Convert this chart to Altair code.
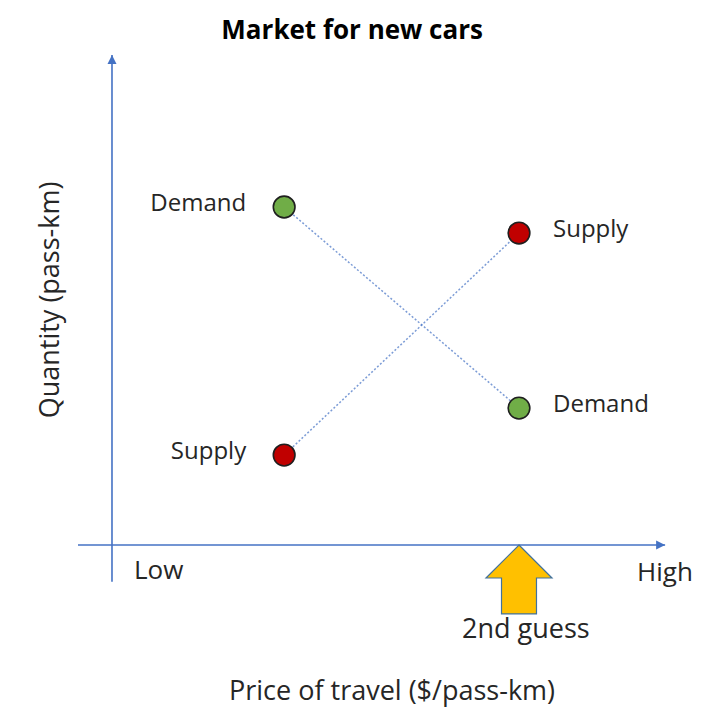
import altair as alt
import pandas as pd

# ---- data (conceptual units: price on x, quantity on y) ----
series = ["Demand", "Demand", "Supply", "Supply"]
price = [4.23, 10.0, 4.23, 10.0]
quantity = [10.0, 4.05, 2.66, 9.23]
point_colors = {"Demand": "#70AD47", "Supply": "#C00000"}

guess_price = 10.0          # "2nd guess" arrow position on the price axis
title_text = "Market for new cars"
x_title = "Price of travel ($/pass-km)"
y_title = "Quantity (pass-km)"
low_label, high_label = "Low", "High"
guess_label = "2nd guess"

# scale domains (no visible axes; the axes are drawn as arrows)
X_DOM = [-2.555, 14.398]
Y_DOM = [-5.0, 15.888]
W, H = 690, 706
FONT = "Open Sans"
BLUE = "#4472C4"
TXT = "#262626"

pts = pd.DataFrame({"series": series, "price": price, "quantity": quantity,
                    "color": [point_colors[s] for s in series]})

xs = alt.Scale(domain=X_DOM, nice=False, zero=False)
ys = alt.Scale(domain=Y_DOM, nice=False, zero=False)

# axis arrows
axes_df = pd.DataFrame({"x": [0.0, -0.835], "y": [-1.09, 0.0],
                        "x2": [0.0, 13.59], "y2": [14.5, 0.0]})
axes = alt.Chart(axes_df).mark_rule(color=BLUE, strokeWidth=1.6).encode(
    x=alt.X("x:Q", scale=xs, axis=None), y=alt.Y("y:Q", scale=ys, axis=None),
    x2="x2:Q", y2="y2:Q")

up_head = alt.Chart(pd.DataFrame({"x": [0.0], "y": [14.5]})).mark_point(
    shape="M0,0L-0.9,1.8L0.9,1.8Z", size=100, filled=True, color=BLUE, opacity=1
).encode(x=alt.X("x:Q", scale=xs), y=alt.Y("y:Q", scale=ys))
right_head = alt.Chart(pd.DataFrame({"x": [13.59], "y": [0.0]})).mark_point(
    shape="M0,0L-1.8,-0.9L-1.8,0.9Z", size=100, filled=True, color=BLUE, opacity=1
).encode(x=alt.X("x:Q", scale=xs), y=alt.Y("y:Q", scale=ys))

lines = alt.Chart(pts).mark_line(color=BLUE, strokeWidth=1.5, strokeDash=[2, 2],
                                 opacity=0.7).encode(
    x=alt.X("price:Q", scale=xs), y=alt.Y("quantity:Q", scale=ys), detail="series:N")

dots = alt.Chart(pts).mark_point(filled=True, size=470, stroke="#1f1f1f",
                                 strokeWidth=1.6, opacity=1).encode(
    x=alt.X("price:Q", scale=xs), y=alt.Y("quantity:Q", scale=ys),
    fill=alt.Fill("color:N", scale=None), color=alt.value("#1f1f1f"))

guess_arrow = alt.Chart(pd.DataFrame({"x": [guess_price], "y": [-0.976]})).mark_point(
    shape="M0,-1L1,0L0.53,0L0.53,1.09L-0.53,1.09L-0.53,0L-1,0Z", size=4356,
    filled=True, fill="#FFC000", stroke="#41719C", strokeWidth=1.2, opacity=1
).encode(x=alt.X("x:Q", scale=xs), y=alt.Y("y:Q", scale=ys))

# point labels
lab_left = pd.DataFrame({"price": [4.23, 4.23], "quantity": [10.0, 2.66],
                         "text": ["Demand", "Supply"]})
lab_right = pd.DataFrame({"price": [10.0, 10.0], "quantity": [9.23, 4.05],
                          "text": ["Supply", "Demand"]})
t_left = alt.Chart(lab_left).mark_text(align="right", baseline="middle", dx=-38, dy=-3,
                                       font=FONT, fontSize=24, color=TXT).encode(
    x=alt.X("price:Q", scale=xs), y=alt.Y("quantity:Q", scale=ys), text="text:N")
t_right = alt.Chart(lab_right).mark_text(align="left", baseline="middle", dx=34, dy=-3,
                                         font=FONT, fontSize=24, color=TXT).encode(
    x=alt.X("price:Q", scale=xs), y=alt.Y("quantity:Q", scale=ys), text="text:N")

# axis end labels and annotations
ann_left = pd.DataFrame({"x": [0.54, 12.9], "y": [-0.77, -0.83],
                         "text": [low_label, high_label]})
t_ann_left = alt.Chart(ann_left).mark_text(align="left", baseline="middle", font=FONT,
                                           fontSize=26, color=TXT).encode(
    x=alt.X("x:Q", scale=xs), y=alt.Y("y:Q", scale=ys), text="text:N")

ann_c = pd.DataFrame({"x": [10.17, 6.88], "y": [-2.51, -4.35],
                      "text": [guess_label, x_title]})
t_ann_c = alt.Chart(ann_c).mark_text(align="center", baseline="middle", font=FONT,
                                     fontSize=27, color=TXT).encode(
    x=alt.X("x:Q", scale=xs), y=alt.Y("y:Q", scale=ys), text="text:N")

t_title = alt.Chart(pd.DataFrame({"x": [5.9], "y": [15.2], "text": [title_text]})).mark_text(
    align="center", baseline="middle", font=FONT, fontSize=26, fontWeight="bold",
    color="#000000").encode(x=alt.X("x:Q", scale=xs), y=alt.Y("y:Q", scale=ys), text="text:N")

t_ytitle = alt.Chart(pd.DataFrame({"x": [-1.5], "y": [7.25], "text": [y_title]})).mark_text(
    align="center", baseline="middle", angle=270, font=FONT, fontSize=27,
    color=TXT).encode(x=alt.X("x:Q", scale=xs), y=alt.Y("y:Q", scale=ys), text="text:N")

chart = alt.layer(
    axes, up_head, right_head, lines, dots, guess_arrow,
    t_left, t_right, t_ann_left, t_ann_c, t_title, t_ytitle
).properties(
    width=W, height=H, padding=0, autosize=alt.AutoSizeParams(type="none"),
    background="white"
).configure_view(stroke=None)

chart.save("out.html", embed_options={"renderer": "svg", "actions": False})
